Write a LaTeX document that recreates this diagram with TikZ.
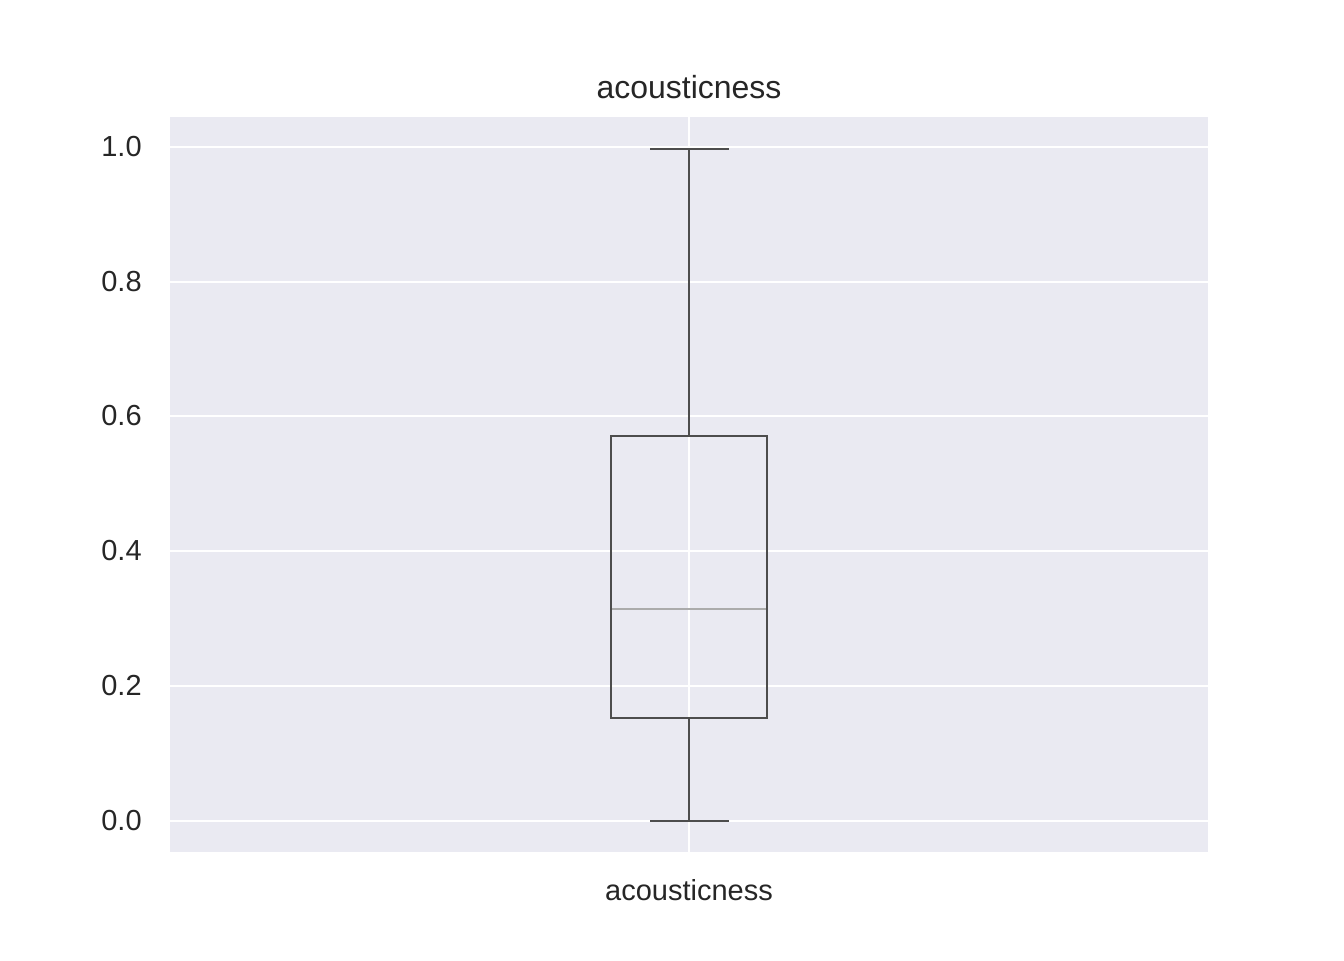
\documentclass[tikz,border=0pt]{standalone}
\usepackage{fontspec}
\setmainfont{Liberation Sans}
\definecolor{panel}{HTML}{EAEAF2}
\definecolor{boxline}{HTML}{4D4D4D}
\definecolor{medline}{HTML}{ABABAB}
\definecolor{labeltext}{HTML}{262626}
\tikzset{
  gridline/.style={white, line width=1.6pt},
  boxpart/.style={boxline, line width=1.6pt},
  ticklabel/.style={anchor=east, inner sep=0pt, text=labeltext, font=\fontsize{16.5pt}{18pt}\selectfont},
  titlelabel/.style={anchor=base, inner sep=0pt, text=labeltext, font=\fontsize{18.2pt}{20pt}\selectfont}
}
\begin{document}
\begin{tikzpicture}[x=0.02cm, y=-0.02cm]
			\useasboundingbox (0,0) rectangle (1344,960);
			% Draw panel and grid
			\fill[panel] (170,117) rectangle (1208,852);
			\foreach \v/\y in {0.0/821, 0.2/686, 0.4/551, 0.6/416, 0.8/282, 1.0/147} {
				\draw[gridline] (170,\y) -- (1208,\y);
				\node[ticklabel] (tick\y) at (142,\y) {\v};
			}
			\draw[gridline] (689,117) -- (689,852);
			% Draw box and whiskers
			\draw[boxpart] (611,436) rectangle (767,718);
			\draw[boxpart] (689,436) -- (689,149);
			\draw[boxpart] (689,718) -- (689,821);
			\draw[boxpart] (650,149) -- (729,149);
			\draw[boxpart] (650,821) -- (729,821);
			% Draw median
			\draw[medline, line width=1.4pt] (612,609) -- (766,609);
			% Draw labels
			\node[titlelabel] (title) at (689,98) {acousticness};
			\node[titlelabel, font=\fontsize{16.5pt}{18pt}\selectfont] (xlabel) at (689,900) {acousticness};
		\end{tikzpicture}
\end{document}
